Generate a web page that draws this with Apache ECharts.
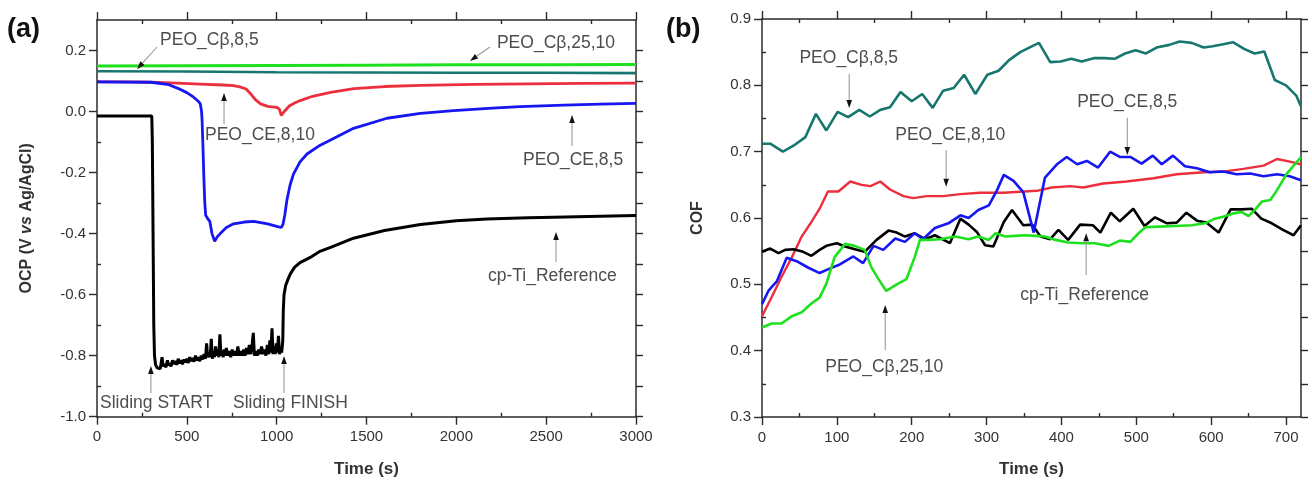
<!DOCTYPE html>
<html><head><meta charset="utf-8">
<script src="https://cdn.jsdelivr.net/npm/echarts@6/dist/echarts.min.js"></script>
<style>html,body{margin:0;padding:0;background:#fff}#c{width:1312px;height:486px}</style>
</head><body><div id="c"></div><script>
// ---------- Panel (a): OCP vs time ----------
const aGreenT = [0, 500, 1000, 1500, 2000, 2500, 3000];
const aGreenV = [0.149, 0.150, 0.151, 0.152, 0.153, 0.153, 0.154];
const aTealT = [0, 500, 1000, 1500, 2000, 2500, 3000];
const aTealV = [0.132, 0.131, 0.129, 0.128, 0.127, 0.127, 0.126];
const aRedT = [0,150,300,450,575,700,760,800,830,860,880,910,950,1000,1015,1026,1045,1070,1100,1131,1200,1300,1430,1600,1800,2100,2400,2700,3000];
const aRedV = [0.097,0.097,0.096,0.093,0.090,0.087,0.085,0.080,0.074,0.055,0.040,0.025,0.017,0.014,0.008,-0.013,0.002,0.018,0.028,0.036,0.050,0.063,0.075,0.082,0.086,0.089,0.091,0.092,0.093];
const aBlueT = [0,300,400,450,500,538,565,575,582,585,590,595,600,605,615,628,640,655,670,686,720,760,820,872,950,1000,1025,1035,1045,1057,1075,1094,1130,1169,1240,1300,1428,1614,1800,1985,2200,2355,2600,2800,3000];
const aBlueV = [0.097,0.096,0.088,0.076,0.062,0.047,0.033,0.025,0.0,-0.03,-0.12,-0.22,-0.30,-0.34,-0.35,-0.36,-0.40,-0.425,-0.41,-0.40,-0.38,-0.368,-0.362,-0.360,-0.368,-0.376,-0.38,-0.37,-0.34,-0.29,-0.24,-0.204,-0.165,-0.139,-0.111,-0.093,-0.055,-0.022,-0.006,0.003,0.011,0.016,0.021,0.024,0.027];
const aBlackT = [0,305,308,312,316,320,326,335,345,352,358,362,368,376,384,392,398,405,412,420,428,436,444,452,460,468,476,484,492,500,508,516,524,532,540,548,556,564,572,580,588,596,604,610,616,624,630,636,642,648,654,660,666,672,678,684,690,696,702,708,714,720,728,736,744,752,760,768,776,784,792,800,808,816,824,832,840,848,856,864,870,876,884,892,900,908,916,924,932,940,948,956,962,968,974,980,986,992,998,1004,1010,1016,1022,1028,1034,1037,1041,1050,1063,1076,1100,1130,1187,1241,1300,1428,1600,1800,2000,2170,2400,2541,2800,3000];
const aBlackV = [-0.015,-0.015,-0.10,-0.40,-0.70,-0.80,-0.83,-0.84,-0.838,-0.843,-0.82,-0.805,-0.835,-0.828,-0.838,-0.815,-0.832,-0.825,-0.835,-0.815,-0.828,-0.818,-0.83,-0.81,-0.825,-0.815,-0.828,-0.812,-0.822,-0.81,-0.824,-0.805,-0.818,-0.808,-0.82,-0.80,-0.815,-0.805,-0.818,-0.80,-0.812,-0.795,-0.81,-0.76,-0.805,-0.79,-0.805,-0.745,-0.81,-0.785,-0.805,-0.77,-0.80,-0.78,-0.805,-0.73,-0.80,-0.785,-0.805,-0.78,-0.80,-0.775,-0.80,-0.785,-0.805,-0.78,-0.80,-0.785,-0.80,-0.77,-0.80,-0.785,-0.80,-0.78,-0.80,-0.775,-0.795,-0.765,-0.795,-0.76,-0.725,-0.80,-0.785,-0.80,-0.78,-0.795,-0.77,-0.795,-0.78,-0.80,-0.765,-0.795,-0.75,-0.79,-0.71,-0.795,-0.77,-0.795,-0.76,-0.79,-0.735,-0.795,-0.775,-0.79,-0.75,-0.65,-0.60,-0.57,-0.55,-0.532,-0.51,-0.495,-0.478,-0.458,-0.445,-0.415,-0.39,-0.370,-0.358,-0.352,-0.348,-0.346,-0.343,-0.341];
const aXTicks = [0, 500, 1000, 1500, 2000, 2500, 3000];
const aXMinor = [250, 750, 1250, 1750, 2250, 2750];
const aYTicks = [-1.0, -0.8, -0.6, -0.4, -0.2, 0.0, 0.2];
const aYMinor = [-0.9, -0.7, -0.5, -0.3, -0.1, 0.1];

// ---------- Panel (b): COF vs time ----------
const bTealT = [0,11,28,42,58,72,86,101,115,130,144,158,171,185,200,214,228,242,256,270,285,301,316,330,345,359,370,385,399,413,427,443,457,471,485,499,513,527,544,558,574,590,602,616,629,644,658,671,685,700,714,720];
const bTealV = [0.712,0.712,0.700,0.709,0.722,0.757,0.732,0.760,0.752,0.763,0.753,0.763,0.767,0.790,0.776,0.787,0.766,0.792,0.796,0.816,0.787,0.816,0.822,0.838,0.850,0.858,0.864,0.835,0.836,0.840,0.836,0.841,0.841,0.840,0.848,0.853,0.848,0.857,0.861,0.866,0.864,0.857,0.859,0.862,0.865,0.855,0.848,0.851,0.808,0.800,0.784,0.768];
const bRedT = [0,13,26,40,53,66,77,88,102,118,133,145,158,171,189,202,220,242,265,291,323,367,387,412,429,456,487,523,554,590,616,643,670,688,705,720];
const bRedV = [0.452,0.481,0.511,0.541,0.572,0.594,0.614,0.640,0.640,0.655,0.650,0.648,0.655,0.643,0.633,0.630,0.633,0.633,0.636,0.638,0.638,0.641,0.646,0.648,0.646,0.652,0.655,0.660,0.666,0.669,0.670,0.674,0.679,0.689,0.685,0.681];
const bBlueT = [0,9,20,33,48,62,77,91,104,122,135,149,162,178,191,204,215,231,249,265,276,289,303,314,323,336,349,363,378,394,407,421,434,449,465,478,492,507,522,534,549,565,581,598,616,634,652,670,688,705,720];
const bBlueV = [0.470,0.491,0.505,0.540,0.534,0.525,0.517,0.524,0.530,0.542,0.532,0.558,0.552,0.569,0.564,0.577,0.568,0.585,0.592,0.604,0.600,0.612,0.619,0.642,0.665,0.656,0.639,0.578,0.661,0.681,0.692,0.681,0.686,0.676,0.700,0.692,0.692,0.682,0.694,0.681,0.694,0.678,0.675,0.669,0.670,0.666,0.667,0.663,0.666,0.663,0.657];
const bBlackT = [0,11,22,31,42,55,66,77,86,100,111,124,137,153,169,180,191,204,218,231,251,265,276,287,298,309,323,334,349,361,372,385,396,409,425,442,452,466,478,496,511,525,541,554,567,581,594,610,626,641,654,667,681,696,710,720];
const bBlackV = [0.549,0.554,0.547,0.552,0.553,0.549,0.543,0.552,0.558,0.562,0.557,0.553,0.549,0.567,0.581,0.578,0.572,0.577,0.568,0.574,0.562,0.599,0.590,0.579,0.559,0.557,0.594,0.612,0.589,0.590,0.572,0.568,0.582,0.567,0.590,0.589,0.578,0.608,0.595,0.614,0.588,0.601,0.592,0.593,0.608,0.596,0.593,0.578,0.613,0.613,0.614,0.599,0.592,0.582,0.574,0.589];
const bGreenT = [0,13,26,40,53,66,77,86,97,111,124,137,146,155,166,180,193,204,211,222,238,258,276,289,303,312,325,338,352,365,378,392,409,427,445,463,478,492,503,512,530,552,574,592,605,616,630,641,650,659,668,679,688,701,720];
const bGreenV = [0.435,0.441,0.441,0.452,0.458,0.471,0.480,0.501,0.541,0.561,0.558,0.552,0.526,0.509,0.490,0.500,0.508,0.541,0.567,0.567,0.568,0.572,0.568,0.572,0.567,0.577,0.572,0.573,0.574,0.573,0.572,0.567,0.563,0.562,0.562,0.558,0.566,0.564,0.577,0.586,0.587,0.588,0.589,0.592,0.599,0.602,0.607,0.609,0.603,0.613,0.625,0.627,0.642,0.667,0.692];
const bXTicks = [0, 100, 200, 300, 400, 500, 600, 700];
const bXMinor = [50, 150, 250, 350, 450, 550, 650];
const bYTicks = [0.3, 0.4, 0.5, 0.6, 0.7, 0.8, 0.9];
const bYMinor = [0.35, 0.45, 0.55, 0.65, 0.75, 0.85];

// ---------- Annotations (data coordinates) ----------
const aNotes = [
  {text: 'PEO_C\u03b2,8,5', at: [351, 0.234], tail: [334, 0.2115], head: [223, 0.139]},
  {text: 'PEO_C\u03b2,25,10', at: [2226, 0.2246], tail: [2187, 0.2115], head: [2076, 0.166]},
  {text: 'PEO_CE,8,10', at: [601, -0.077], tail: [707, -0.041], head: [707, 0.061]},
  {text: 'PEO_CE,8,5', at: [2371, -0.159], tail: [2644, -0.113], head: [2644, -0.011]},
  {text: 'cp-Ti_Reference', at: [2176, -0.539], tail: [2555, -0.493], head: [2555, -0.395]},
  {text: 'Sliding START', at: [17, -0.955], tail: [300, -0.922], head: [300, -0.834]},
  {text: 'Sliding FINISH', at: [757, -0.955], tail: [1041, -0.922], head: [1041, -0.801]}
];
const bNotes = [
  {text: 'PEO_C\u03b2,8,5', at: [50, 0.841], tail: [116.5, 0.817], head: [116.5, 0.766]},
  {text: 'PEO_CE,8,10', at: [178, 0.725], tail: [246, 0.702], head: [246, 0.647]},
  {text: 'PEO_CE,8,5', at: [421, 0.775], tail: [488, 0.751], head: [488, 0.695]},
  {text: 'cp-Ti_Reference', at: [345, 0.484], tail: [433, 0.514], head: [433, 0.577]},
  {text: 'PEO_C\u03b2,25,10', at: [84.5, 0.375], tail: [164.6, 0.401], head: [164.6, 0.469]}
];

const FONT = "'Liberation Sans', Arial, Helvetica, sans-serif";
const AX = '#2b2b2b';
const C = {teal: '#17776f', green: '#1fe01f', red: '#ec2f3c', blue: '#1616f0', black: '#000000'};

function pairs(t, v) { return t.map((x, i) => [x, v[i]]); }

function axis(gi, pos, min, max, o) {
  const a = {
    type: 'value', gridIndex: gi, position: pos, min: min, max: max,
    axisLine: {show: !!o.line, onZero: false, lineStyle: {color: AX, width: 1.5}},
    axisTick: {show: !!o.ticks, inside: !!o.inside, length: o.len || 7, customValues: o.ticks || [],
               lineStyle: {color: AX, width: 1.4}},
    axisLabel: o.labels ? {show: true, customValues: o.ticks, formatter: o.fmt, color: '#333',
                           fontSize: 15, fontFamily: FONT, margin: o.margin} : {show: false},
    splitLine: {show: false}, minorTick: {show: false}, minorSplitLine: {show: false},
    nameMoveOverlap: false
  };
  if (o.name) {
    a.name = o.name; a.nameLocation = 'middle'; a.nameGap = o.nameGap;
    a.nameTextStyle = o.nameStyle;
  }
  return a;
}

const nameStyle = {fontSize: 17, fontWeight: 'bold', fontFamily: FONT, color: '#333'};
const f1 = v => v.toFixed(1);
const f0 = v => String(Math.round(v));

const gridA = {left: 97, top: 20, width: 539, height: 396.7, outerBoundsMode: 'none'};
const gridB = {left: 762, top: 19, width: 539, height: 398, outerBoundsMode: 'none'};

const option = {
  animation: false,
  backgroundColor: '#fff',
  grid: [gridA, Object.assign({}, gridA), gridB, Object.assign({}, gridB)],
  xAxis: [
    axis(0, 'bottom', 0, 3000, {line: true, ticks: aXTicks, labels: true, fmt: f0, margin: 13, len: 8,
         name: 'Time (s)', nameGap: 44, nameStyle: nameStyle}),
    axis(0, 'top', 0, 3000, {line: true, ticks: aXTicks, len: 8}),
    axis(1, 'bottom', 0, 3000, {ticks: aXMinor, inside: true, len: 4}),
    axis(1, 'top', 0, 3000, {ticks: aXMinor, inside: true, len: 4}),
    axis(2, 'bottom', 0, 720, {line: true, ticks: bXTicks, labels: true, fmt: f0, margin: 13, len: 8,
         name: 'Time (s)', nameGap: 44, nameStyle: nameStyle}),
    axis(2, 'top', 0, 720, {line: true, ticks: bXTicks, len: 8}),
    axis(3, 'bottom', 0, 720, {ticks: bXMinor, inside: true, len: 4}),
    axis(3, 'top', 0, 720, {ticks: bXMinor, inside: true, len: 4})
  ],
  yAxis: [
    axis(0, 'left', -1.0, 0.3, {line: true, ticks: aYTicks, labels: true, fmt: f1, margin: 11, len: 8,
         name: '{n|OCP (V }{i|vs}{n| Ag/AgCl)}', nameGap: 62,
         nameStyle: {rich: {n: {fontSize: 16, fontWeight: 'bold', fontFamily: FONT, color: '#333'},
                            i: {fontSize: 16, fontWeight: 'bold', fontStyle: 'italic', fontFamily: FONT, color: '#333'}}}}),
    axis(0, 'right', -1.0, 0.3, {line: true, ticks: aYTicks.concat(aYMinor), len: 7}),
    axis(1, 'left', -1.0, 0.3, {ticks: aYMinor, inside: true, len: 4}),
    axis(2, 'left', 0.3, 0.9, {line: true, ticks: bYTicks, labels: true, fmt: f1, margin: 11, len: 8,
         name: 'COF', nameGap: 56, nameStyle: {fontSize: 16, fontWeight: 'bold', fontFamily: FONT, color: '#333'}}),
    axis(2, 'right', 0.3, 0.9, {line: true, ticks: bYTicks.concat(bYMinor), len: 7}),
    axis(3, 'left', 0.3, 0.9, {ticks: bYMinor, inside: true, len: 4})
  ],
  series: []
};

function addSeries(xi, yi, t, v, color, w) {
  option.series.push({type: 'line', xAxisIndex: xi, yAxisIndex: yi, data: pairs(t, v),
    showSymbol: false, symbol: 'none', lineStyle: {color: color, width: w}, itemStyle: {color: color},
    emphasis: {disabled: true}, silent: true});
}
addSeries(0, 0, aGreenT, aGreenV, C.green, 3);
addSeries(0, 0, aTealT, aTealV, C.teal, 2.6);
addSeries(0, 0, aRedT, aRedV, C.red, 2.8);
addSeries(0, 0, aBlueT, aBlueV, C.blue, 2.8);
addSeries(0, 0, aBlackT, aBlackV, C.black, 3);
addSeries(4, 3, bTealT, bTealV, C.teal, 2.6);
addSeries(4, 3, bRedT, bRedV, C.red, 2.4);
addSeries(4, 3, bBlackT, bBlackV, C.black, 2.6);
addSeries(4, 3, bBlueT, bBlueV, C.blue, 2.6);
addSeries(4, 3, bGreenT, bGreenV, C.green, 2.6);

const chart = echarts.init(document.getElementById('c'), null, {renderer: 'canvas'});
chart.setOption(option);

function noteGraphics(notes, gridIndex) {
  const out = [];
  notes.forEach(n => {
    const p = chart.convertToPixel({gridIndex: gridIndex}, n.at);
    const t = chart.convertToPixel({gridIndex: gridIndex}, n.tail);
    const h = chart.convertToPixel({gridIndex: gridIndex}, n.head);
    const dx = h[0] - t[0], dy = h[1] - t[1];
    const L = Math.sqrt(dx * dx + dy * dy) || 1;
    const ux = dx / L, uy = dy / L, nx = -uy, ny = ux;
    const bx = h[0] - ux * 8, by = h[1] - uy * 8;
    out.push({type: 'line', silent: true, z: 50,
      shape: {x1: t[0], y1: t[1], x2: bx, y2: by}, style: {stroke: '#9a9a9a', lineWidth: 1.1}});
    out.push({type: 'polygon', silent: true, z: 51,
      shape: {points: [[h[0], h[1]], [bx + nx * 2.8, by + ny * 2.8], [bx - nx * 2.8, by - ny * 2.8]]},
      style: {fill: '#111'}});
    out.push({type: 'text', silent: true, z: 52, x: p[0], y: p[1],
      style: {text: n.text, fill: '#4d4d4d', font: '17.5px ' + FONT, align: 'left', verticalAlign: 'middle'}});
  });
  return out;
}

const graphics = noteGraphics(aNotes, 0).concat(noteGraphics(bNotes, 2));
graphics.push({type: 'text', silent: true, x: 7, y: 30,
  style: {text: '(a)', fill: '#111', font: 'bold 27px ' + FONT, verticalAlign: 'middle'}});
graphics.push({type: 'text', silent: true, x: 666, y: 30,
  style: {text: '(b)', fill: '#111', font: 'bold 27px ' + FONT, verticalAlign: 'middle'}});
chart.setOption({graphic: graphics});
</script></body></html>
